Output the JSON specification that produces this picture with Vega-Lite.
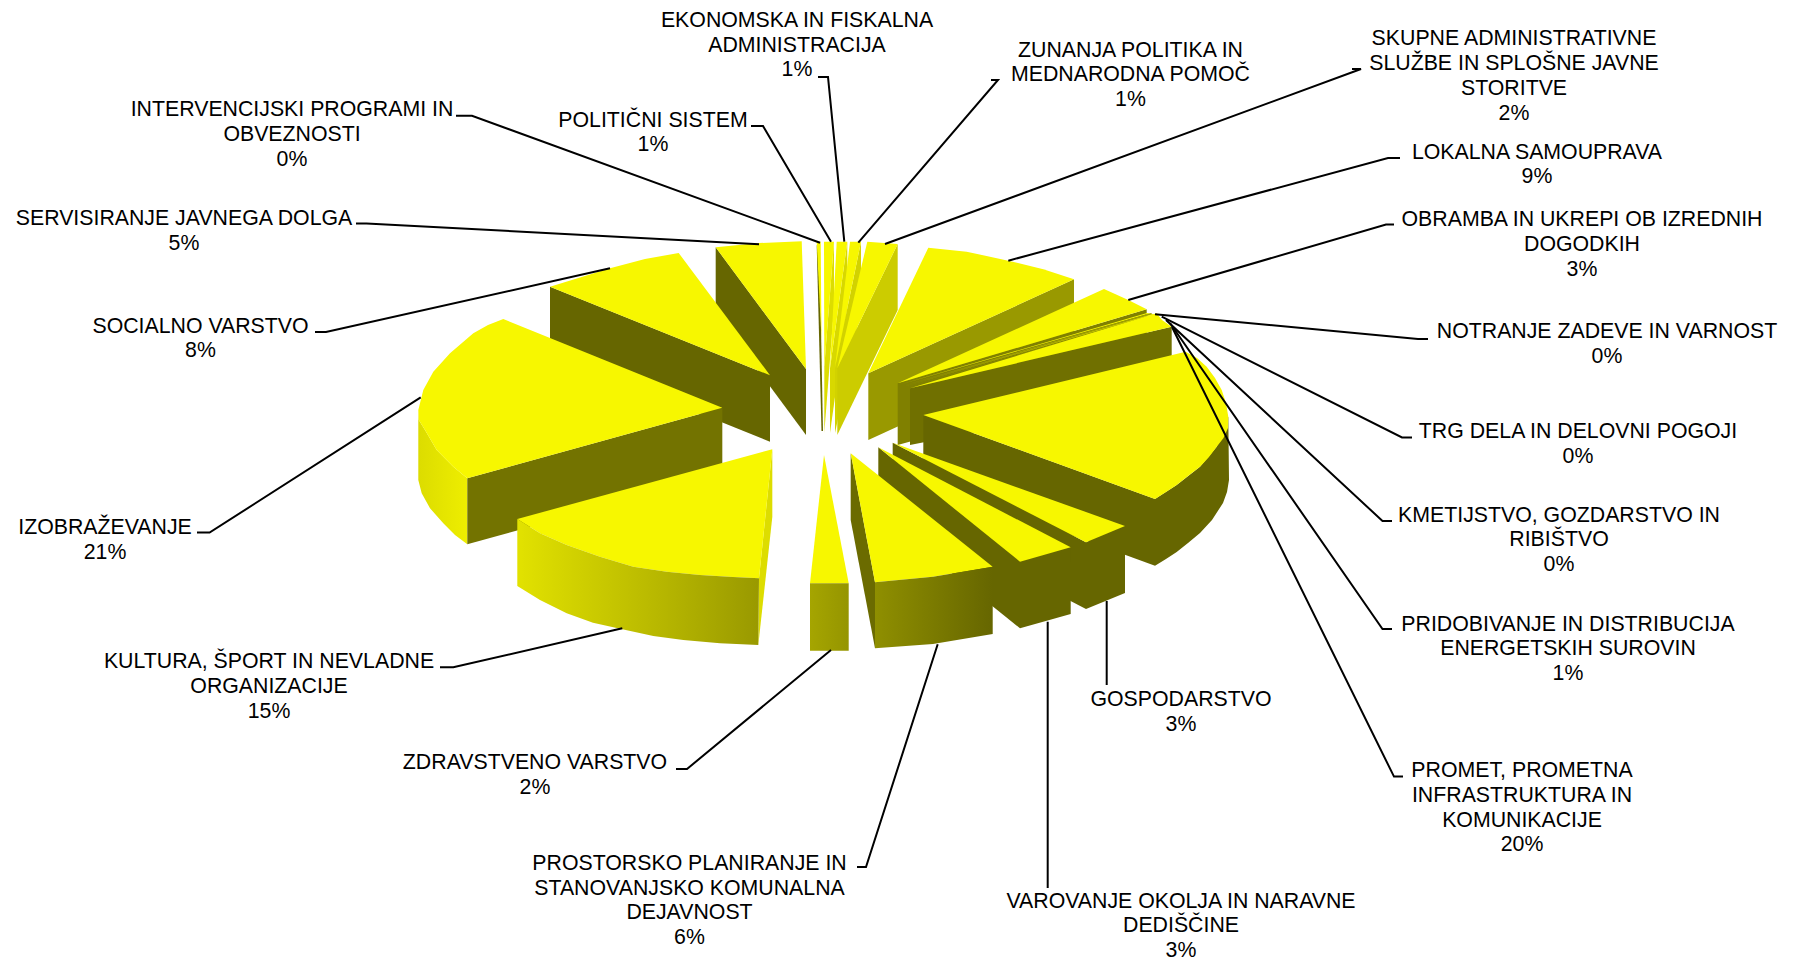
{"$schema":"https://vega.github.io/schema/vega-lite/v6.json","width":1796,"height":960,"padding":0,"autosize":{"type":"none"},"background":"white","view":{"stroke":null},
"datasets":{
"gradIzob":[{"p":"izob-arc","i":0,"x":418.3,"y":410},{"p":"izob-arc","i":1,"x":418.8,"y":420},{"p":"izob-arc","i":2,"x":425,"y":430},{"p":"izob-arc","i":3,"x":436.7,"y":450},{"p":"izob-arc","i":4,"x":453.3,"y":466.7},{"p":"izob-arc","i":5,"x":467.3,"y":478.3},{"p":"izob-arc","i":6,"x":467.3,"y":544.3},{"p":"izob-arc","i":7,"x":455,"y":535},{"p":"izob-arc","i":8,"x":443.3,"y":523.3},{"p":"izob-arc","i":9,"x":430,"y":508.3},{"p":"izob-arc","i":10,"x":421.7,"y":493.3},{"p":"izob-arc","i":11,"x":418.3,"y":480}],
"gradZdrav":[{"p":"zdrav-front","i":0,"x":810,"y":583.3},{"p":"zdrav-front","i":1,"x":848.7,"y":583.3},{"p":"zdrav-front","i":2,"x":848.7,"y":650.7},{"p":"zdrav-front","i":3,"x":810,"y":650.7}],
"gradProstor":[{"p":"prostor-front","i":0,"x":875,"y":582.3},{"p":"prostor-front","i":1,"x":933,"y":576.7},{"p":"prostor-front","i":2,"x":992.7,"y":566.7},{"p":"prostor-front","i":3,"x":992.7,"y":634},{"p":"prostor-front","i":4,"x":933,"y":644},{"p":"prostor-front","i":5,"x":875,"y":648.3}],
"gradKultura":[{"p":"kultura-front","i":0,"x":517.3,"y":519},{"p":"kultura-front","i":1,"x":540,"y":533.3},{"p":"kultura-front","i":2,"x":566.7,"y":545},{"p":"kultura-front","i":3,"x":600,"y":556.7},{"p":"kultura-front","i":4,"x":633.3,"y":566.7},{"p":"kultura-front","i":5,"x":666.7,"y":571.7},{"p":"kultura-front","i":6,"x":700,"y":575},{"p":"kultura-front","i":7,"x":733,"y":577},{"p":"kultura-front","i":8,"x":759,"y":578.3},{"p":"kultura-front","i":9,"x":758.3,"y":645},{"p":"kultura-front","i":10,"x":720,"y":643.3},{"p":"kultura-front","i":11,"x":683.3,"y":640},{"p":"kultura-front","i":12,"x":653.3,"y":636},{"p":"kultura-front","i":13,"x":622.3,"y":629.3},{"p":"kultura-front","i":14,"x":593,"y":622.7},{"p":"kultura-front","i":15,"x":566.7,"y":613.3},{"p":"kultura-front","i":16,"x":540,"y":600},{"p":"kultura-front","i":17,"x":517.3,"y":586}],
"pieces":[
{"p":"servis-side","i":0,"x":715.7,"y":247.3},{"p":"servis-side","i":1,"x":806,"y":369},{"p":"servis-side","i":2,"x":806,"y":435},{"p":"servis-side","i":3,"x":715.7,"y":313},
{"p":"servis-top","i":0,"x":715.7,"y":247.3},{"p":"servis-top","i":1,"x":759,"y":243},{"p":"servis-top","i":2,"x":801.7,"y":241.3},{"p":"servis-top","i":3,"x":806,"y":369},
{"p":"socialno-side","i":0,"x":550,"y":286.7},{"p":"socialno-side","i":1,"x":770,"y":375.3},{"p":"socialno-side","i":2,"x":770,"y":441.7},{"p":"socialno-side","i":3,"x":550,"y":353},
{"p":"socialno-top","i":0,"x":550,"y":286.7},{"p":"socialno-top","i":1,"x":610,"y":268.3},{"p":"socialno-top","i":2,"x":645,"y":259},{"p":"socialno-top","i":3,"x":678.7,"y":253},{"p":"socialno-top","i":4,"x":770,"y":375.3},
{"p":"izob-side","i":0,"x":467.3,"y":478.3},{"p":"izob-side","i":1,"x":722.3,"y":407.7},{"p":"izob-side","i":2,"x":722.3,"y":474},{"p":"izob-side","i":3,"x":467.3,"y":544.3},
{"p":"izob-top","i":0,"x":503.3,"y":319},{"p":"izob-top","i":1,"x":488,"y":325},{"p":"izob-top","i":2,"x":473.3,"y":333.3},{"p":"izob-top","i":3,"x":450,"y":353.3},{"p":"izob-top","i":4,"x":433.3,"y":371.7},{"p":"izob-top","i":5,"x":423.3,"y":390},{"p":"izob-top","i":6,"x":418.3,"y":410},{"p":"izob-top","i":7,"x":418.8,"y":420},{"p":"izob-top","i":8,"x":425,"y":430},{"p":"izob-top","i":9,"x":436.7,"y":450},{"p":"izob-top","i":10,"x":453.3,"y":466.7},{"p":"izob-top","i":11,"x":467.3,"y":478.3},{"p":"izob-top","i":12,"x":722.3,"y":407.7},
{"p":"polit-side","i":0,"x":834,"y":241.7},{"p":"polit-side","i":1,"x":824.3,"y":366.7},{"p":"polit-side","i":2,"x":824.3,"y":433},{"p":"polit-side","i":3,"x":834,"y":308},
{"p":"polit-top","i":0,"x":824,"y":241.7},{"p":"polit-top","i":1,"x":834,"y":241.7},{"p":"polit-top","i":2,"x":824.3,"y":366.7},
{"p":"interv-side","i":0,"x":816.7,"y":245},{"p":"interv-side","i":1,"x":819.5,"y":250},{"p":"interv-side","i":2,"x":823,"y":431},{"p":"interv-side","i":3,"x":821.5,"y":431},
{"p":"interv-top","i":0,"x":816.7,"y":241.7},{"p":"interv-top","i":1,"x":820.7,"y":241.7},{"p":"interv-top","i":2,"x":821.5,"y":340},
{"p":"ekon-side","i":0,"x":847.3,"y":241.7},{"p":"ekon-side","i":1,"x":830,"y":368.3},{"p":"ekon-side","i":2,"x":830,"y":433},{"p":"ekon-side","i":3,"x":847.3,"y":308},
{"p":"ekon-top","i":0,"x":836.7,"y":241.7},{"p":"ekon-top","i":1,"x":847.3,"y":241.7},{"p":"ekon-top","i":2,"x":830,"y":368.3},
{"p":"zunanja-side","i":0,"x":861,"y":241.7},{"p":"zunanja-side","i":1,"x":835,"y":368},{"p":"zunanja-side","i":2,"x":835,"y":433},{"p":"zunanja-side","i":3,"x":861,"y":308},
{"p":"zunanja-top","i":0,"x":850,"y":241.7},{"p":"zunanja-top","i":1,"x":861,"y":241.7},{"p":"zunanja-top","i":2,"x":835,"y":368},
{"p":"skupne-side","i":0,"x":897.7,"y":244},{"p":"skupne-side","i":1,"x":837.3,"y":368.3},{"p":"skupne-side","i":2,"x":837.3,"y":435},{"p":"skupne-side","i":3,"x":897.7,"y":310},
{"p":"skupne-top","i":0,"x":867.3,"y":241.7},{"p":"skupne-top","i":1,"x":897.7,"y":244},{"p":"skupne-top","i":2,"x":837.3,"y":368.3},
{"p":"lokalna-side","i":0,"x":868.3,"y":373.3},{"p":"lokalna-side","i":1,"x":1074,"y":279.3},{"p":"lokalna-side","i":2,"x":1074,"y":346},{"p":"lokalna-side","i":3,"x":868.3,"y":440},
{"p":"lokalna-top","i":0,"x":928.3,"y":247.7},{"p":"lokalna-top","i":1,"x":966.7,"y":251.7},{"p":"lokalna-top","i":2,"x":1008.3,"y":260.7},{"p":"lokalna-top","i":3,"x":1043.3,"y":269.3},{"p":"lokalna-top","i":4,"x":1074,"y":279.3},{"p":"lokalna-top","i":5,"x":868.3,"y":373.3},
{"p":"obramba-side","i":0,"x":897.7,"y":383.3},{"p":"obramba-side","i":1,"x":1146.7,"y":309.3},{"p":"obramba-side","i":2,"x":1146.7,"y":376},{"p":"obramba-side","i":3,"x":897.7,"y":445},
{"p":"obramba-top","i":0,"x":897.7,"y":383.3},{"p":"obramba-top","i":1,"x":1104,"y":289},{"p":"obramba-top","i":2,"x":1128.3,"y":300},{"p":"obramba-top","i":3,"x":1146.7,"y":309.3},
{"p":"notranje-top","i":0,"x":900,"y":384.5},{"p":"notranje-top","i":1,"x":1147,"y":313},{"p":"notranje-top","i":2,"x":1151,"y":313},
{"p":"trg-side","i":0,"x":902,"y":386},{"p":"trg-side","i":1,"x":1151,"y":313},{"p":"trg-side","i":2,"x":1153,"y":314.5},
{"p":"trg-top","i":0,"x":904,"y":386.5},{"p":"trg-top","i":1,"x":1153,"y":314},{"p":"trg-top","i":2,"x":1155,"y":314},
{"p":"kmet-side","i":0,"x":906,"y":387.5},{"p":"kmet-side","i":1,"x":1155,"y":314.5},{"p":"kmet-side","i":2,"x":1156,"y":315},
{"p":"energet-side","i":0,"x":910,"y":388.3},{"p":"energet-side","i":1,"x":1171.7,"y":326.7},{"p":"energet-side","i":2,"x":1171.7,"y":393},{"p":"energet-side","i":3,"x":910,"y":445},
{"p":"energet-top","i":0,"x":910,"y":388.3},{"p":"energet-top","i":1,"x":1156.7,"y":313.3},{"p":"energet-top","i":2,"x":1162,"y":320},{"p":"energet-top","i":3,"x":1171.7,"y":326.7},
{"p":"promet-side","i":0,"x":923.3,"y":415},{"p":"promet-side","i":1,"x":1155,"y":499},{"p":"promet-side","i":2,"x":1155,"y":565.7},{"p":"promet-side","i":3,"x":923.3,"y":481},
{"p":"promet-arc","i":0,"x":1228.3,"y":416.7},{"p":"promet-arc","i":1,"x":1216.7,"y":446.7},{"p":"promet-arc","i":2,"x":1200,"y":466.7},{"p":"promet-arc","i":3,"x":1176.7,"y":485},{"p":"promet-arc","i":4,"x":1155,"y":499},{"p":"promet-arc","i":5,"x":1155,"y":565.7},{"p":"promet-arc","i":6,"x":1166,"y":559},{"p":"promet-arc","i":7,"x":1176.7,"y":552},{"p":"promet-arc","i":8,"x":1188,"y":543},{"p":"promet-arc","i":9,"x":1200,"y":533},{"p":"promet-arc","i":10,"x":1212,"y":520},{"p":"promet-arc","i":11,"x":1223,"y":503},{"p":"promet-arc","i":12,"x":1227,"y":492},{"p":"promet-arc","i":13,"x":1229,"y":480},
{"p":"promet-top","i":0,"x":923.3,"y":415},{"p":"promet-top","i":1,"x":1185.7,"y":351.7},{"p":"promet-top","i":2,"x":1197,"y":358},{"p":"promet-top","i":3,"x":1206.7,"y":366.7},{"p":"promet-top","i":4,"x":1215,"y":378},{"p":"promet-top","i":5,"x":1221.7,"y":390},{"p":"promet-top","i":6,"x":1226,"y":403},{"p":"promet-top","i":7,"x":1228.3,"y":416.7},{"p":"promet-top","i":8,"x":1228,"y":428},{"p":"promet-top","i":9,"x":1223.5,"y":438},{"p":"promet-top","i":10,"x":1216.7,"y":446.7},{"p":"promet-top","i":11,"x":1209,"y":457},{"p":"promet-top","i":12,"x":1200,"y":466.7},{"p":"promet-top","i":13,"x":1188,"y":476},{"p":"promet-top","i":14,"x":1176.7,"y":485},{"p":"promet-top","i":15,"x":1166,"y":492},{"p":"promet-top","i":16,"x":1155,"y":499},
{"p":"gosp-side","i":0,"x":892.7,"y":442.7},{"p":"gosp-side","i":1,"x":1086,"y":542.3},{"p":"gosp-side","i":2,"x":1086,"y":609},{"p":"gosp-side","i":3,"x":892.7,"y":509},
{"p":"gosp-front","i":0,"x":1086,"y":542.3},{"p":"gosp-front","i":1,"x":1125,"y":526},{"p":"gosp-front","i":2,"x":1125,"y":593},{"p":"gosp-front","i":3,"x":1086,"y":609},
{"p":"gosp-top","i":0,"x":892.7,"y":442.7},{"p":"gosp-top","i":1,"x":1086,"y":542.3},{"p":"gosp-top","i":2,"x":1125,"y":526},
{"p":"varov-side","i":0,"x":878.3,"y":447.3},{"p":"varov-side","i":1,"x":1020,"y":561.7},{"p":"varov-side","i":2,"x":1020,"y":628.3},{"p":"varov-side","i":3,"x":878.3,"y":514},
{"p":"varov-front","i":0,"x":1020,"y":561.7},{"p":"varov-front","i":1,"x":1070.7,"y":547.3},{"p":"varov-front","i":2,"x":1070.7,"y":614},{"p":"varov-front","i":3,"x":1020,"y":628.3},
{"p":"varov-top","i":0,"x":878.3,"y":447.3},{"p":"varov-top","i":1,"x":1020,"y":561.7},{"p":"varov-top","i":2,"x":1070.7,"y":547.3},
{"p":"prostor-side","i":0,"x":850.7,"y":453.3},{"p":"prostor-side","i":1,"x":875,"y":582.3},{"p":"prostor-side","i":2,"x":875,"y":648.3},{"p":"prostor-side","i":3,"x":850.7,"y":520},
{"p":"prostor-top","i":0,"x":850.7,"y":453.3},{"p":"prostor-top","i":1,"x":875,"y":582.3},{"p":"prostor-top","i":2,"x":933,"y":576.7},{"p":"prostor-top","i":3,"x":992.7,"y":566.7},
{"p":"zdrav-top","i":0,"x":824,"y":455},{"p":"zdrav-top","i":1,"x":810,"y":583.3},{"p":"zdrav-top","i":2,"x":848.7,"y":583.3},
{"p":"kultura-sliver","i":0,"x":772.3,"y":449.3},{"p":"kultura-sliver","i":1,"x":772.3,"y":517},{"p":"kultura-sliver","i":2,"x":758.3,"y":645},{"p":"kultura-sliver","i":3,"x":759,"y":578.3},
{"p":"kultura-top","i":0,"x":517.3,"y":519},{"p":"kultura-top","i":1,"x":772.3,"y":449.3},{"p":"kultura-top","i":2,"x":759,"y":578.3},{"p":"kultura-top","i":3,"x":733,"y":577},{"p":"kultura-top","i":4,"x":700,"y":575},{"p":"kultura-top","i":5,"x":666.7,"y":571.7},{"p":"kultura-top","i":6,"x":633.3,"y":566.7},{"p":"kultura-top","i":7,"x":600,"y":556.7},{"p":"kultura-top","i":8,"x":566.7,"y":545},{"p":"kultura-top","i":9,"x":540,"y":533.3}
],
"leaders":[
{"k":"ekon","i":0,"x":818,"y":77},{"k":"ekon","i":1,"x":828,"y":77},{"k":"ekon","i":2,"x":844.3,"y":241.7},
{"k":"zun","i":0,"x":991,"y":80},{"k":"zun","i":1,"x":998,"y":80},{"k":"zun","i":2,"x":858.3,"y":242.7},
{"k":"sku","i":0,"x":1352,"y":69},{"k":"sku","i":1,"x":1361,"y":69},{"k":"sku","i":2,"x":885,"y":244},
{"k":"lok","i":0,"x":1400,"y":158},{"k":"lok","i":1,"x":1388,"y":158},{"k":"lok","i":2,"x":1008.3,"y":260.7},
{"k":"obr","i":0,"x":1394,"y":224.5},{"k":"obr","i":1,"x":1386,"y":224.5},{"k":"obr","i":2,"x":1128.3,"y":300},
{"k":"not","i":0,"x":1428,"y":339},{"k":"not","i":1,"x":1418,"y":339},{"k":"not","i":2,"x":1155,"y":314.3},
{"k":"trg","i":0,"x":1412,"y":437.5},{"k":"trg","i":1,"x":1402,"y":437.5},{"k":"trg","i":2,"x":1161.7,"y":316.7},
{"k":"kme","i":0,"x":1392,"y":521},{"k":"kme","i":1,"x":1382.5,"y":521},{"k":"kme","i":2,"x":1166,"y":320},
{"k":"pri","i":0,"x":1392,"y":629},{"k":"pri","i":1,"x":1382.5,"y":629},{"k":"pri","i":2,"x":1170,"y":323},
{"k":"pro","i":0,"x":1403,"y":776.6},{"k":"pro","i":1,"x":1394,"y":776.6},{"k":"pro","i":2,"x":1172,"y":327},
{"k":"var","i":0,"x":1047.7,"y":621.7},{"k":"var","i":1,"x":1047.7,"y":888},
{"k":"gos","i":0,"x":1106.7,"y":601},{"k":"gos","i":1,"x":1106.7,"y":685},
{"k":"pst","i":0,"x":937.7,"y":644.3},{"k":"pst","i":1,"x":866,"y":867},{"k":"pst","i":2,"x":857,"y":867},
{"k":"zdr","i":0,"x":831,"y":650},{"k":"zdr","i":1,"x":687,"y":769},{"k":"zdr","i":2,"x":676,"y":769},
{"k":"kul","i":0,"x":622.3,"y":628.3},{"k":"kul","i":1,"x":453.3,"y":667.3},{"k":"kul","i":2,"x":440,"y":667.3},
{"k":"izo","i":0,"x":420.7,"y":397.3},{"k":"izo","i":1,"x":209.6,"y":532.6},{"k":"izo","i":2,"x":197,"y":532.6},
{"k":"soc","i":0,"x":610,"y":268.3},{"k":"soc","i":1,"x":326,"y":332},{"k":"soc","i":2,"x":315,"y":332},
{"k":"ser","i":0,"x":759,"y":244.3},{"k":"ser","i":1,"x":366.5,"y":223.4},{"k":"ser","i":2,"x":356,"y":223.4},
{"k":"int","i":0,"x":820,"y":242.7},{"k":"int","i":1,"x":472,"y":115.7},{"k":"int","i":2,"x":456,"y":115.7},
{"k":"pol","i":0,"x":831,"y":241.7},{"k":"pol","i":1,"x":763,"y":126},{"k":"pol","i":2,"x":751,"y":126}
],
"labels":[
{"t":"EKONOMSKA IN FISKALNA\nADMINISTRACIJA\n1%","x":797,"y":20.8},
{"t":"ZUNANJA POLITIKA IN\nMEDNARODNA POMOČ\n1%","x":1130.5,"y":50.6},
{"t":"SKUPNE ADMINISTRATIVNE\nSLUŽBE IN SPLOŠNE JAVNE\nSTORITVE\n2%","x":1514,"y":39.2},
{"t":"LOKALNA SAMOUPRAVA\n9%","x":1537,"y":152.6},
{"t":"OBRAMBA IN UKREPI OB IZREDNIH\nDOGODKIH\n3%","x":1582,"y":220.1},
{"t":"NOTRANJE ZADEVE IN VARNOST\n0%","x":1607,"y":332.4},
{"t":"TRG DELA IN DELOVNI POGOJI\n0%","x":1578,"y":432},
{"t":"KMETIJSTVO, GOZDARSTVO IN\nRIBIŠTVO\n0%","x":1559,"y":515.7},
{"t":"PRIDOBIVANJE IN DISTRIBUCIJA\nENERGETSKIH SUROVIN\n1%","x":1568,"y":624.5},
{"t":"PROMET, PROMETNA\nINFRASTRUKTURA IN\nKOMUNIKACIJE\n20%","x":1522,"y":771},
{"t":"VAROVANJE OKOLJA IN NARAVNE\nDEDIŠČINE\n3%","x":1181,"y":901.6},
{"t":"GOSPODARSTVO\n3%","x":1181,"y":700},
{"t":"PROSTORSKO PLANIRANJE IN\nSTANOVANJSKO KOMUNALNA\nDEJAVNOST\n6%","x":689.5,"y":863.9},
{"t":"ZDRAVSTVENO VARSTVO\n2%","x":535,"y":763},
{"t":"KULTURA, ŠPORT IN NEVLADNE\nORGANIZACIJE\n15%","x":269,"y":662.3},
{"t":"IZOBRAŽEVANJE\n21%","x":105,"y":528.3},
{"t":"SOCIALNO VARSTVO\n8%","x":200.5,"y":326.7},
{"t":"SERVISIRANJE JAVNEGA DOLGA\n5%","x":184,"y":219},
{"t":"INTERVENCIJSKI PROGRAMI IN\nOBVEZNOSTI\n0%","x":292,"y":110.2},
{"t":"POLITIČNI SISTEM\n1%","x":653,"y":120.5}
]},
"encoding":{
"x":{"field":"x","type":"quantitative","axis":null,"scale":{"domain":[0,1796],"nice":false,"zero":false}},
"y":{"field":"y","type":"quantitative","axis":null,"scale":{"domain":[960,0],"nice":false,"zero":false}}},
"layer":[
{"data":{"name":"gradIzob"},"mark":{"type":"line","strokeWidth":0,"fill":{"x1":0,"y1":0,"x2":1,"y2":0,"gradient":"linear","stops":[{"offset":0,"color":"#dcdc00"},{"offset":1,"color":"#eeee00"}]}},"encoding":{"order":{"field":"i"}}},
{"data":{"name":"pieces"},"mark":{"type":"line","strokeWidth":0},"encoding":{"order":{"field":"i"},"detail":{"field":"p"},"fill":{"field":"p","type":"nominal","legend":null,"sort":null,"scale":{
"domain":["servis-side","servis-top","socialno-side","socialno-top","izob-side","izob-top","polit-side","polit-top","interv-side","interv-top","ekon-side","ekon-top","zunanja-side","zunanja-top","skupne-side","skupne-top","lokalna-side","lokalna-top","obramba-side","obramba-top","notranje-top","trg-side","trg-top","kmet-side","energet-side","energet-top","promet-side","promet-arc","promet-top","gosp-side","gosp-front","gosp-top","varov-side","varov-front","varov-top","prostor-side","prostor-top","zdrav-top","kultura-sliver","kultura-top"],
"range":["#666600","#f7f700","#666600","#f7f700","#737300","#f7f700","#dddd00","#f7f700","#666600","#f7f700","#d8d800","#f7f700","#d2d200","#f7f700","#cccc00","#f7f700","#999900","#f7f700","#808000","#f7f700","#f7f700","#a0a000","#f7f700","#a0a000","#707000","#f7f700","#666600","#666600","#f7f700","#666600","#666600","#f7f700","#666600","#666600","#f7f700","#6b6b00","#f7f700","#f7f700","#dddd00","#f7f700"]}}}},
{"data":{"name":"gradZdrav"},"mark":{"type":"line","strokeWidth":0,"fill":{"x1":0,"y1":0,"x2":1,"y2":0,"gradient":"linear","stops":[{"offset":0,"color":"#a5a500"},{"offset":1,"color":"#959500"}]}},"encoding":{"order":{"field":"i"}}},
{"data":{"name":"gradProstor"},"mark":{"type":"line","strokeWidth":0,"fill":{"x1":0,"y1":0,"x2":1,"y2":0,"gradient":"linear","stops":[{"offset":0,"color":"#8f8f00"},{"offset":1,"color":"#666600"}]}},"encoding":{"order":{"field":"i"}}},
{"data":{"name":"gradKultura"},"mark":{"type":"line","strokeWidth":0,"fill":{"x1":0,"y1":0,"x2":1,"y2":0,"gradient":"linear","stops":[{"offset":0,"color":"#e2e200"},{"offset":1,"color":"#999900"}]}},"encoding":{"order":{"field":"i"}}},
{"data":{"name":"leaders"},"mark":{"type":"line","color":"black","strokeWidth":2},"encoding":{"order":{"field":"i"},"detail":{"field":"k"}}},
{"data":{"name":"labels"},"mark":{"type":"text","font":"Liberation Sans","fontSize":21.3,"lineHeight":24.8,"lineBreak":"\n","align":"center","baseline":"middle","color":"black"},"encoding":{"text":{"field":"t"}}}
]}
